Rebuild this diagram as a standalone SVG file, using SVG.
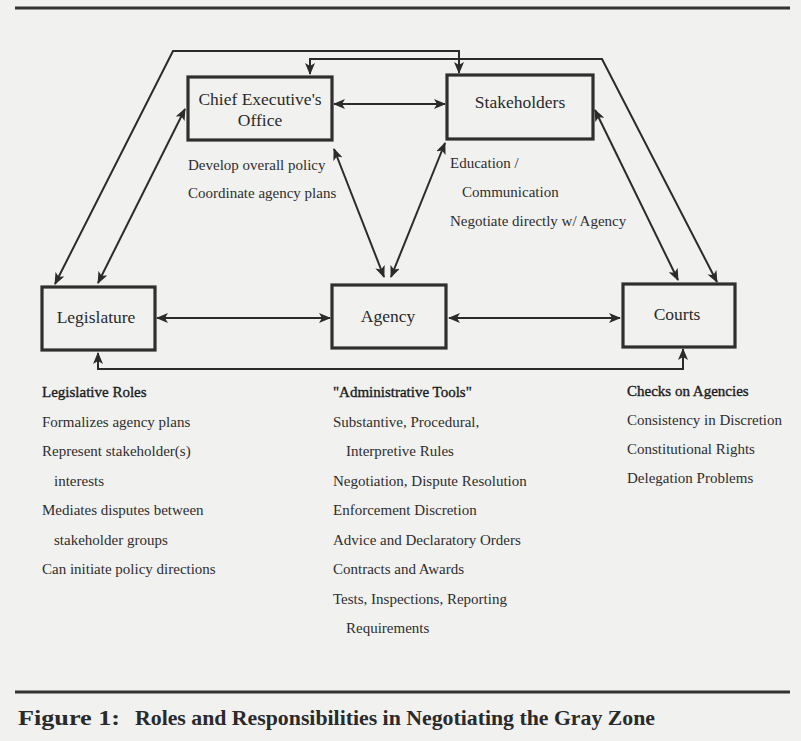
<svg xmlns="http://www.w3.org/2000/svg" width="801" height="741" viewBox="0 0 801 741">
<defs>
<marker id="ah" viewBox="0 0 12 10" refX="11" refY="5" markerWidth="12" markerHeight="10" markerUnits="userSpaceOnUse" orient="auto-start-reverse">
<path d="M0,0 L12,5 L0,10 L3,5 Z" fill="#2b2b2b"/>
</marker>
</defs>
<style>
.box{fill:none;stroke:#2f2f2f;stroke-width:3.2}
.con{fill:none;stroke:#2b2b2b;stroke-width:2;marker-start:url(#ah);marker-end:url(#ah)}
.lbl{font-family:"Liberation Serif",serif;font-size:17.5px;fill:#2a2a2a;text-anchor:middle}
.txt{font-family:"Liberation Serif",serif;font-size:15px;fill:#2e2e2e}
.hd{font-family:"Liberation Serif",serif;font-size:15px;fill:#1a1a1a;stroke:#1a1a1a;stroke-width:0.35}
.rule{stroke:#333;stroke-width:3}
.cap{font-family:"Liberation Serif",serif;font-weight:bold;font-size:20px;fill:#2a2a2a}
</style>
<rect x="0" y="0" width="801" height="741" fill="#f1f1f0"/>
<line class="rule" x1="15" y1="8" x2="790" y2="8"/>
<line class="rule" x1="15" y1="692" x2="790" y2="692"/>

<g id="connectors">
<path class="con" d="M334,104 L445,104"/>
<path class="con" d="M157,318 L330,318"/>
<path class="con" d="M449,318 L620,318"/>
<path class="con" d="M98,353 L98,369 L683,369 L683,349"/>
<path class="con" d="M98,283 L185,109"/>
<path class="con" d="M334,149 L384,277"/>
<path class="con" d="M445,143 L391,277"/>
<path class="con" d="M595,110 L678,280"/>
<path class="con" d="M55,284 L173,51 L459,51 L459,73"/>
<path class="con" d="M310,74 L310,59 L602,59 L717,282"/>
</g>

<g id="ceo">
<rect class="box" x="188" y="77" width="144" height="63"/>
<text class="lbl" x="260" y="105">Chief Executive's</text>
<text class="lbl" x="260" y="126">Office</text>
<text class="txt" x="188" y="170">Develop overall policy</text>
<text class="txt" x="188" y="198">Coordinate agency plans</text>
</g>

<g id="stakeholders">
<rect class="box" x="447" y="75" width="146" height="64"/>
<text class="lbl" x="520" y="108">Stakeholders</text>
<text class="txt" x="450" y="168">Education /</text>
<text class="txt" x="462" y="197">Communication</text>
<text class="txt" x="450" y="226">Negotiate directly w/ Agency</text>
</g>

<g id="legislature">
<rect class="box" x="42" y="287" width="113" height="63"/>
<text class="lbl" x="96" y="323">Legislature</text>
<text class="hd" x="42" y="397">Legislative Roles</text>
<text class="txt" x="42" y="426.5">Formalizes agency plans</text>
<text class="txt" x="42" y="456">Represent stakeholder(s)</text>
<text class="txt" x="54" y="485.5">interests</text>
<text class="txt" x="42" y="515">Mediates disputes between</text>
<text class="txt" x="54" y="544.5">stakeholder groups</text>
<text class="txt" x="42" y="574">Can initiate policy directions</text>
</g>

<g id="agency">
<rect class="box" x="332" y="285" width="114" height="63"/>
<text class="lbl" x="388" y="322">Agency</text>
<text class="hd" x="333" y="397">"Administrative Tools"</text>
<text class="txt" x="333" y="426.5">Substantive, Procedural,</text>
<text class="txt" x="346" y="456">Interpretive Rules</text>
<text class="txt" x="333" y="485.5">Negotiation, Dispute Resolution</text>
<text class="txt" x="333" y="515">Enforcement Discretion</text>
<text class="txt" x="333" y="544.5">Advice and Declaratory Orders</text>
<text class="txt" x="333" y="574">Contracts and Awards</text>
<text class="txt" x="333" y="603.5">Tests, Inspections, Reporting</text>
<text class="txt" x="346" y="633">Requirements</text>
</g>

<g id="courts">
<rect class="box" x="623" y="284" width="112" height="63"/>
<text class="lbl" x="677" y="320">Courts</text>
<text class="hd" x="627" y="396">Checks on Agencies</text>
<text class="txt" x="627" y="425">Consistency in Discretion</text>
<text class="txt" x="627" y="454">Constitutional Rights</text>
<text class="txt" x="627" y="483">Delegation Problems</text>
</g>

<g id="caption">
<text class="cap" x="18" y="725" textLength="102" lengthAdjust="spacingAndGlyphs">Figure 1:</text>
<text class="cap" x="135" y="725" textLength="520" lengthAdjust="spacingAndGlyphs">Roles and Responsibilities in Negotiating the Gray Zone</text>
</g>
</svg>
